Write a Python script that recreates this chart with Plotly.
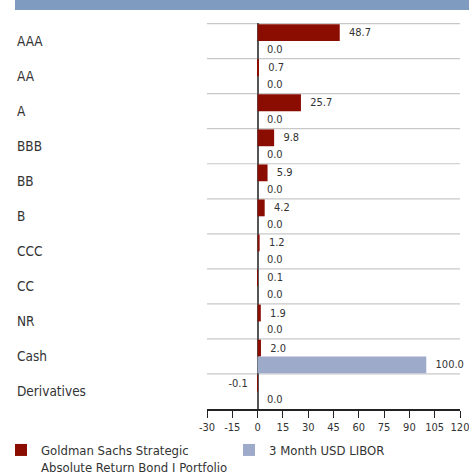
import plotly.graph_objects as go

categories = ["AAA", "AA", "A", "BBB", "BB", "B", "CCC", "CC", "NR", "Cash", "Derivatives"]
gs_values = [48.7, 0.7, 25.7, 9.8, 5.9, 4.2, 1.2, 0.1, 1.9, 2.0, -0.1]
libor_values = [0.0, 0.0, 0.0, 0.0, 0.0, 0.0, 0.0, 0.0, 0.0, 100.0, 0.0]
x_ticks = [-30, -15, 0, 15, 30, 45, 60, 75, 90, 105, 120]
gs_name = "Goldman Sachs Strategic<br>Absolute Return Bond I Portfolio"
libor_name = "3 Month USD LIBOR"

FONT = "DejaVu Sans Condensed, DejaVu Sans, sans-serif"
RED = "#8b0d02"
BLUE = "#9daac9"


def fnt(size):
    return dict(family=FONT, size=size, color="#333333")


def labels(vals):
    return [f"  {v:.1f}" if v >= 0 else f"{v:.1f}  " for v in vals]


fig = go.Figure()
fig.add_trace(go.Bar(
    y=categories, x=gs_values, orientation="h", name=gs_name, legend="legend",
    marker=dict(color=RED, line=dict(width=0)),
    text=labels(gs_values), textposition="outside", cliponaxis=False,
    textfont=fnt(11),
))
fig.add_trace(go.Bar(
    y=categories, x=libor_values, orientation="h", name=libor_name, legend="legend2",
    marker=dict(color=BLUE, line=dict(width=0)),
    text=labels(libor_values), textposition="outside", cliponaxis=False,
    textfont=fnt(11),
))

L, R, T, B = 207, 9, 23, 66
W, H = 469, 475
pw = W - L - R
ph = H - T - B

shapes = []
# top banner
shapes.append(dict(type="rect", xref="paper", yref="paper",
                   x0=(15 - L) / pw, x1=(W - L) / pw,
                   y0=1 + (T - 10) / ph, y1=1 + T / ph,
                   fillcolor="#7f9bc0", line=dict(width=0), layer="below"))
# row separators
for i in range(len(categories)):
    shapes.append(dict(type="line", xref="paper", yref="y",
                       x0=0, x1=1, y0=i - 0.5, y1=i - 0.5,
                       line=dict(color="#c8c8c8", width=1.2), layer="below"))

annotations = []
for c in categories:
    annotations.append(dict(text=c, xref="paper", yref="y", x=(15 - L) / pw, y=c,
                            xanchor="left", yanchor="middle", showarrow=False,
                            font=fnt(13.5)))

leg_common = dict(orientation="h", xanchor="left", yanchor="top", valign="top",
                  y=-(435 - (T + ph)) / ph, font=fnt(13), itemclick=False,
                  bgcolor="rgba(0,0,0,0)", borderwidth=0)

fig.update_layout(
    width=W, height=H,
    margin=dict(l=L, r=R, t=T, b=B, pad=0, autoexpand=False),
    paper_bgcolor="white", plot_bgcolor="white",
    barmode="group", bargap=0.04, bargroupgap=0,
    font=dict(family=FONT, color="#333333"),
    shapes=shapes, annotations=annotations,
    showlegend=True,
    legend=dict(x=(1 - L) / pw, **leg_common),
    legend2=dict(x=(229 - L) / pw, **leg_common),
    xaxis=dict(range=[-30, 120], tickvals=x_ticks, ticktext=[str(t) for t in x_ticks],
               showgrid=False, zeroline=True, zerolinecolor="#555555", zerolinewidth=1.5,
               showline=True, linecolor="#222222", linewidth=1.5,
               ticks="outside", ticklen=7, tickwidth=1.2, tickcolor="#222222",
               ticklabeloverflow="allow",
               tickfont=fnt(11), fixedrange=True),
    yaxis=dict(categoryorder="array", categoryarray=categories, autorange="reversed",
               showticklabels=False, showgrid=False, zeroline=False, showline=False,
               fixedrange=True),
)

fig.write_html("out.html", config={"displayModeBar": False},
               post_script="document.body.style.margin='0';document.body.style.padding='0';")
